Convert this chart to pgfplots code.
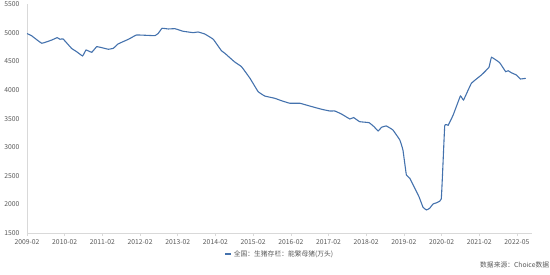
\documentclass[border=0pt]{standalone}
\usepackage{pgfplots}
\pgfplotsset{compat=1.18}
\usepackage{fontspec}
\setmainfont{Noto Sans CJK SC}
\definecolor{lineblue}{RGB}{68,114,173}
\definecolor{axgray}{RGB}{217,217,217}
\definecolor{txtgray}{RGB}{89,89,89}
\begin{document}
\begin{tikzpicture}
\useasboundingbox (-27bp,-42bp) rectangle (523bp,233bp);
\begin{axis}[
  at={(0,0)}, anchor=south west,
  scale only axis, width=504.7bp, height=228.6bp,
  xmin=0, xmax=160.7, ymin=1500, ymax=5500,
  axis lines=left, axis line style={-, draw=axgray, line width=0.6pt},
  xtick={0,12,24,36,48,60,72,84,96,108,120,132,144,156},
  xticklabels={2009-02,2010-02,2011-02,2012-02,2013-02,2014-02,2015-02,2016-02,2017-02,2018-02,2019-02,2020-02,2021-02,2022-05},
  ytick={1500,2000,2500,3000,3500,4000,4500,5000,5500},
  x tick style={draw=axgray, line width=0.6pt}, y tick style={draw=none},
  tick align=outside, major tick length=3bp,
  tick label style={font=\fontsize{6.8}{8}\selectfont, text=txtgray},
  /pgf/number format/assume math mode=true,
  /pgf/number format/set thousands separator={},
  yticklabel style={xshift=-1bp},
  xticklabel style={yshift=0bp},
  legend style={at={(0.501,-0.062)}, anchor=north, draw=none, font=\fontsize{6.8}{8}\selectfont, text=txtgray, inner sep=1pt},
  legend image code/.code={\draw[#1, line width=1.2pt] (0cm,0cm) -- (0.22cm,0cm);},
]
\addplot[color=lineblue, line width=1.1pt, smooth, tension=0.15] coordinates {
(0,4990) (1.5,4950) (4.7,4820) (7.9,4877) (9.6,4918) (10.5,4890) (11.5,4895)
(14.2,4730) (15.8,4673) (17.7,4598) (18.8,4702) (20.6,4662) (22.2,4760)
(23.8,4743) (25.9,4715) (27.5,4732) (29,4808) (32.5,4895) (34.9,4965)
(40.7,4953) (41.8,4994) (43,5082) (45,5070) (47.1,5075) (49.7,5030)
(52.9,5006) (54.5,5017) (56.6,4982) (59.3,4890) (61.9,4690) (63,4645)
(66,4498) (68.3,4410) (71,4207) (73.6,3973) (75.7,3897) (78.9,3857)
(81,3815) (83.7,3770) (86.9,3770) (90,3722) (93.8,3665) (96.4,3635)
(98,3635) (100.1,3583) (102.8,3495) (104,3520) (105.9,3448) (108.9,3431)
(110.5,3360) (111.8,3285) (112.9,3350) (114.4,3373) (116.5,3303)
(118.7,3128) (119.7,2953) (120.8,2515) (121.9,2457) (124.8,2136)
(126.1,1950) (127.2,1903) (128.2,1932) (129.3,2008) (131.9,2095)
(133,3373) (134.1,3385) (135.7,3565) (138,3897) (139,3828) (141.5,4120)
(144.7,4265) (147.1,4400) (147.9,4575) (150.5,4480) (152.4,4323)
(153.2,4340) (154.2,4305) (155.8,4265) (157.1,4195) (158.8,4207)
};
\addlegendentry{全国：生猪存栏：能繁母猪(万头)}
\end{axis}
\node[anchor=west, font=\fontsize{6.8}{8}\selectfont, text=txtgray, inner sep=0pt] at (453bp,-32bp) {数据来源：Choice数据};
\end{tikzpicture}
\end{document}
